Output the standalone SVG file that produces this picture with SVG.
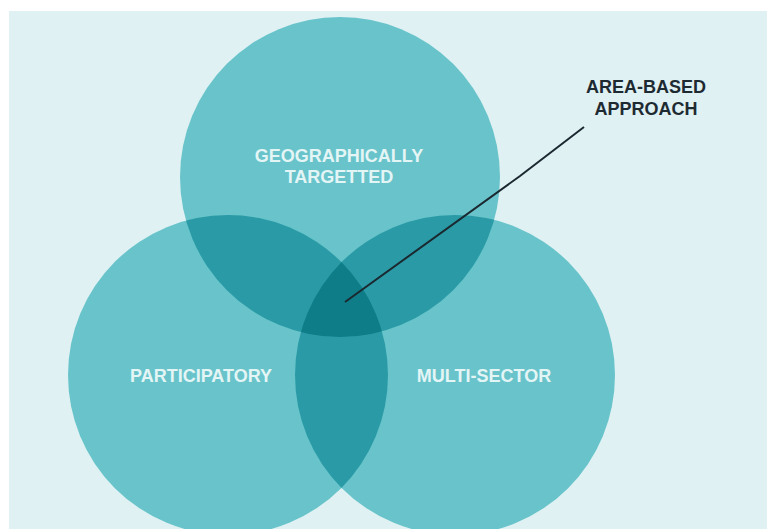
<svg xmlns="http://www.w3.org/2000/svg" width="767" height="529" viewBox="0 0 767 529">
<style>
.c{fill:#68c4ca}
.o2{fill:#2a9ba6}
.o3{fill:#0f7d87}
.lbl{font-family:"Liberation Sans",Arial,sans-serif;font-weight:700;font-size:18px;text-anchor:middle;fill:#e4f5f6}
.callout{font-family:"Liberation Sans",Arial,sans-serif;font-weight:700;font-size:18px;text-anchor:middle;fill:#1e2a32}
</style>
<defs>
<clipPath id="cpTop"><circle cx="340" cy="177" r="160"/></clipPath>
<clipPath id="cpLeft"><circle cx="228" cy="375" r="160"/></clipPath>
<clipPath id="cpRight"><circle cx="455" cy="375" r="160"/></clipPath>
</defs>
<rect x="0" y="0" width="767" height="529" fill="#ffffff"/>
<rect x="9" y="11" width="758" height="518" fill="#dff1f3"/>
<g id="geographically-targetted">
<circle class="c" cx="340" cy="177" r="160"/>
</g>
<g id="participatory">
<circle class="c" cx="228" cy="375" r="160"/>
</g>
<g id="multi-sector">
<circle class="c" cx="455" cy="375" r="160"/>
</g>
<g id="overlaps">
<circle class="o2" cx="228" cy="375" r="160" clip-path="url(#cpTop)"/>
<circle class="o2" cx="455" cy="375" r="160" clip-path="url(#cpTop)"/>
<circle class="o2" cx="455" cy="375" r="160" clip-path="url(#cpLeft)"/>
<g clip-path="url(#cpTop)"><circle class="o3" cx="455" cy="375" r="160" clip-path="url(#cpLeft)"/></g>
</g>
<g id="labels">
<text class="lbl" x="339" y="162">GEOGRAPHICALLY</text>
<text class="lbl" x="339" y="183">TARGETTED</text>
<text class="lbl" x="201" y="382">PARTICIPATORY</text>
<text class="lbl" x="484" y="382">MULTI-SECTOR</text>
</g>
<g id="connectors">
<polyline points="345,302 520,176 584,127" fill="none" stroke="#1b2830" stroke-width="2"/>
</g>
<g id="area-based-approach">
<text class="callout" x="646" y="93">AREA-BASED</text>
<text class="callout" x="646" y="115">APPROACH</text>
</g>
</svg>
